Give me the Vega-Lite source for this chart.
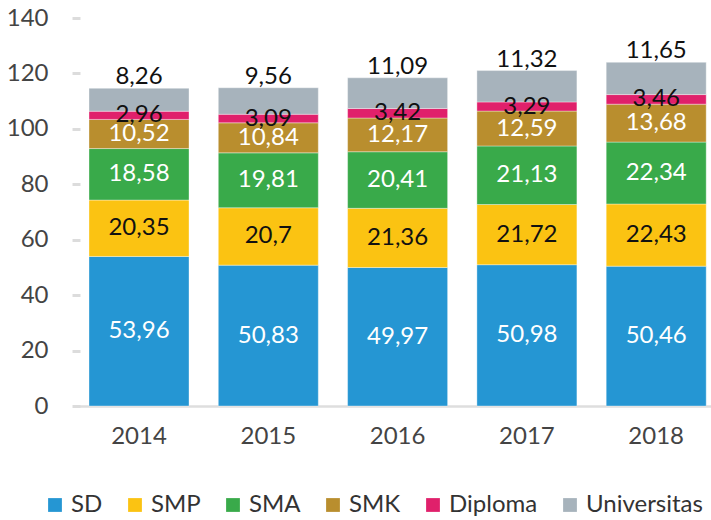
{
  "$schema": "https://vega.github.io/schema/vega-lite/v6.json",
  "autosize": {"type": "none"},
  "width": 636,
  "height": 388,
  "padding": {"left": 75, "top": 18, "right": 0, "bottom": 114},
  "config": {
    "locale": {"number": {"decimal": ",", "thousands": ".", "grouping": [3], "currency": ["", ""]}},
    "view": {"stroke": null},
    "font": "Lato"
  },
  "data": {
    "values": [
      {"year": "2014", "level": "SD", "value": 53.96},
      {"year": "2014", "level": "SMP", "value": 20.35},
      {"year": "2014", "level": "SMA", "value": 18.58},
      {"year": "2014", "level": "SMK", "value": 10.52},
      {"year": "2014", "level": "Diploma", "value": 2.96},
      {"year": "2014", "level": "Universitas", "value": 8.26},
      {"year": "2015", "level": "SD", "value": 50.83},
      {"year": "2015", "level": "SMP", "value": 20.7},
      {"year": "2015", "level": "SMA", "value": 19.81},
      {"year": "2015", "level": "SMK", "value": 10.84},
      {"year": "2015", "level": "Diploma", "value": 3.09},
      {"year": "2015", "level": "Universitas", "value": 9.56},
      {"year": "2016", "level": "SD", "value": 49.97},
      {"year": "2016", "level": "SMP", "value": 21.36},
      {"year": "2016", "level": "SMA", "value": 20.41},
      {"year": "2016", "level": "SMK", "value": 12.17},
      {"year": "2016", "level": "Diploma", "value": 3.42},
      {"year": "2016", "level": "Universitas", "value": 11.09},
      {"year": "2017", "level": "SD", "value": 50.98},
      {"year": "2017", "level": "SMP", "value": 21.72},
      {"year": "2017", "level": "SMA", "value": 21.13},
      {"year": "2017", "level": "SMK", "value": 12.59},
      {"year": "2017", "level": "Diploma", "value": 3.29},
      {"year": "2017", "level": "Universitas", "value": 11.32},
      {"year": "2018", "level": "SD", "value": 50.46},
      {"year": "2018", "level": "SMP", "value": 22.43},
      {"year": "2018", "level": "SMA", "value": 22.34},
      {"year": "2018", "level": "SMK", "value": 13.68},
      {"year": "2018", "level": "Diploma", "value": 3.46},
      {"year": "2018", "level": "Universitas", "value": 11.65}
    ]
  },
  "transform": [
    {"calculate": "indexof(['SD','SMP','SMA','SMK','Diploma','Universitas'], datum.level)", "as": "rank"}
  ],
  "encoding": {
    "x": {
      "field": "year", "type": "nominal",
      "scale": {"paddingInner": 0.2266, "paddingOuter": 0.0727, "align": 0.745},
      "axis": {
        "title": null, "labelAngle": 0, "labelFontSize": 24, "labelColor": "#444",
        "labelPadding": 18, "ticks": false, "domainColor": "#dedede", "domainWidth": 2.5
      }
    }
  },
  "layer": [
    {
      "mark": {"type": "bar", "stroke": "#ffffff", "strokeWidth": 0.6, "strokeOpacity": 0.6},
      "encoding": {
        "y": {
          "field": "value", "type": "quantitative", "stack": "zero",
          "scale": {"domain": [0, 140]},
          "axis": {
            "title": null, "values": [0, 20, 40, 60, 80, 100, 120, 140],
            "domain": false, "grid": false, "tickSize": 8, "tickWidth": 3, "tickColor": "#dcdcdc",
            "offset": -5, "labelPadding": 24, "labelFontSize": 24, "labelColor": "#444"
          }
        },
        "color": {
          "field": "level", "type": "nominal",
          "sort": ["SD", "SMP", "SMA", "SMK", "Diploma", "Universitas"],
          "scale": {
            "domain": ["SD", "SMP", "SMA", "SMK", "Diploma", "Universitas"],
            "range": ["#2596d3", "#fbc312", "#39aa4a", "#b98e2e", "#e0206b", "#a7b3bc"]
          },
          "legend": {
            "title": null, "orient": "none", "direction": "horizontal",
            "legendX": -32, "legendY": 475, "padding": 0,
            "symbolType": "square", "symbolSize": 190, "symbolStrokeWidth": 0, "symbolOpacity": 1,
            "labelFontSize": 24, "labelColor": "#333", "labelOffset": 4, "columnPadding": 20
          }
        },
        "order": {"field": "rank", "type": "quantitative", "sort": "ascending"}
      }
    },
    {
      "transform": [{"filter": "datum.level !== 'Universitas'"}],
      "mark": {"type": "text", "fontSize": 24, "baseline": "middle"},
      "encoding": {
        "y": {"field": "value", "type": "quantitative", "stack": "zero", "bandPosition": 0.5},
        "order": {"field": "rank", "type": "quantitative", "sort": "ascending"},
        "text": {"field": "value", "type": "quantitative", "format": "~g"},
        "color": {
          "condition": {"test": "datum.level === 'SMP' || datum.level === 'Diploma'", "value": "#111111"},
          "value": "#ffffff"
        }
      }
    },
    {
      "mark": {"type": "text", "fontSize": 24, "baseline": "alphabetic", "dy": -4, "color": "#111111"},
      "encoding": {
        "y": {"field": "value", "type": "quantitative", "stack": "zero"},
        "order": {"field": "rank", "type": "quantitative", "sort": "ascending"},
        "text": {
          "condition": {"test": "datum.level === 'Universitas'", "field": "value", "type": "quantitative", "format": "~g"},
          "value": ""
        }
      }
    }
  ]
}
